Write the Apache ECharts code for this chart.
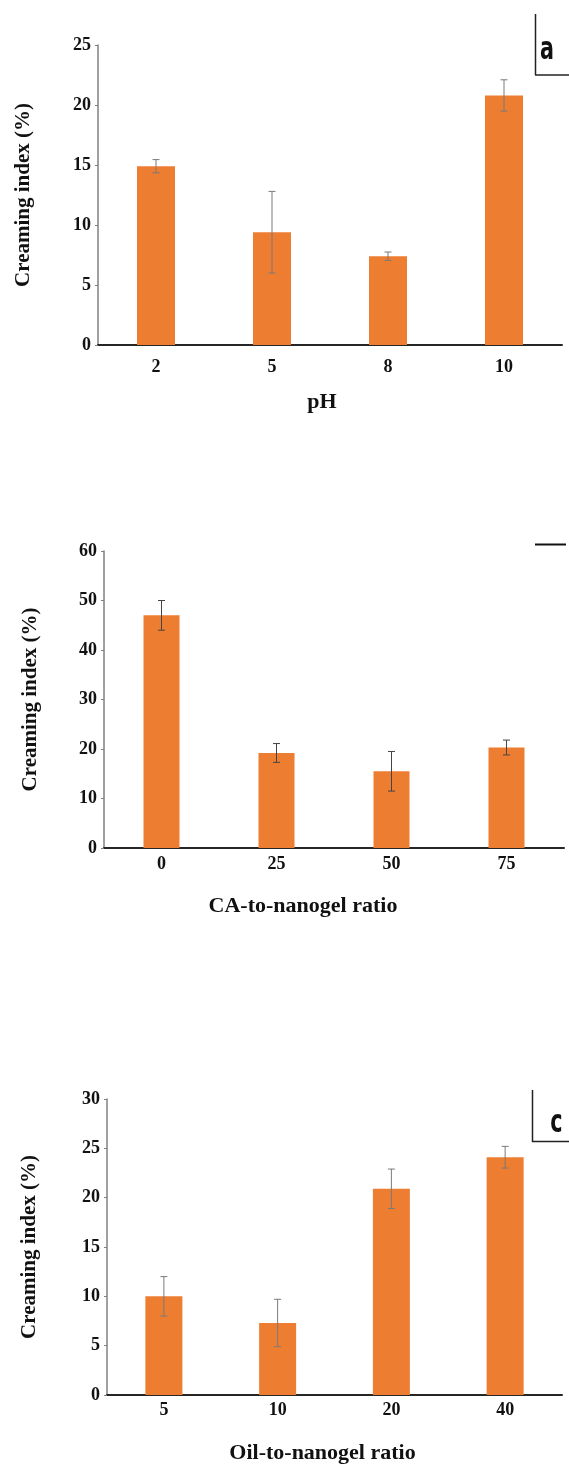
<!DOCTYPE html>
<html>
<head>
<meta charset="utf-8">
<script src="https://cdn.jsdelivr.net/npm/echarts@6/dist/echarts.min.js"></script>
<style>
html,body{margin:0;padding:0;background:#fff;}
#chart{width:569px;height:1465px;}
</style>
</head>
<body>
<div id="chart"></div>
<script>
// ---- data ----
const phCats = ['2', '5', '8', '10'];
const phVals = [14.9, 9.4, 7.4, 20.8];
const phErr  = [0.55, 3.4, 0.35, 1.3];

const caCats = ['0', '25', '50', '75'];
const caVals = [47.0, 19.2, 15.5, 20.3];
const caErr  = [3.0, 1.9, 4.0, 1.5];

const oilCats = ['5', '10', '20', '40'];
const oilVals = [10.0, 7.3, 20.9, 24.1];
const oilErr  = [2.0, 2.4, 2.0, 1.1];

const yTitle = 'Creaming index (%)';
const xTitles = ['pH', 'CA-to-nanogel ratio', 'Oil-to-nanogel ratio'];
const yMax = [25, 60, 30];
const yStep = [5, 10, 5];

// ---- chart ----
const SERIF = '"Liberation Serif", "Times New Roman", serif';
const BAR = '#ED7D31';
const chart = echarts.init(document.getElementById('chart'), null, {renderer: 'canvas'});

const grids = [
  {left: 98, top: 45, width: 464, height: 300},
  {left: 104, top: 551, width: 460, height: 297},
  {left: 107, top: 1099, width: 455, height: 298}
];
const labelMargin = [13, 7, 6];
const xNameGap = [46, 47, 47];
const xNamePad = [[0, 16, 0, 0], [0, 62, 0, 0], [0, 24, 0, 0]];
const yNameGap = [64, 63, 67];
const barW = [38, 36, 37];
const errColor = ['#7a7a7a', '#444444', '#7a7a7a'];

const sets = [
  {cats: phCats, vals: phVals, err: phErr},
  {cats: caCats, vals: caVals, err: caErr},
  {cats: oilCats, vals: oilVals, err: oilErr}
];

const xAxes = [], yAxes = [], series = [];
sets.forEach((s, i) => {
  xAxes.push({
    type: 'category', gridIndex: i, data: s.cats,
    axisLine: {lineStyle: {color: '#262626', width: 2}},
    axisTick: {show: false},
    axisLabel: {color: '#111', fontFamily: SERIF, fontWeight: 'bold', fontSize: 18, margin: labelMargin[i]},
    name: xTitles[i], nameLocation: 'middle', nameGap: xNameGap[i],
    nameTextStyle: {color: '#111', fontFamily: SERIF, fontWeight: 'bold', fontSize: 22, padding: xNamePad[i]}
  });
  yAxes.push({
    type: 'value', gridIndex: i, min: 0, max: yMax[i], interval: yStep[i],
    axisLine: {show: true, lineStyle: {color: '#808080', width: 1.5}},
    axisTick: {show: true, length: 3, lineStyle: {color: '#808080'}},
    splitLine: {show: false},
    axisLabel: {color: '#111', fontFamily: SERIF, fontWeight: 'bold', fontSize: 18, margin: 7},
    name: yTitle, nameLocation: 'middle', nameGap: yNameGap[i], nameRotate: 90,
    nameTextStyle: {color: '#111', fontFamily: SERIF, fontWeight: 'bold', fontSize: 21}
  });
  series.push({
    type: 'bar', xAxisIndex: i, yAxisIndex: i, data: s.vals,
    barWidth: barW[i], itemStyle: {color: BAR}, silent: true
  });
  const col = errColor[i];
  series.push({
    type: 'custom', xAxisIndex: i, yAxisIndex: i, z: 5, silent: true,
    data: s.cats.map((c, k) => [k, s.vals[k], s.err[k]]),
    encode: {x: 0, y: 1},
    renderItem: function (params, api) {
      const x = api.value(0), v = api.value(1), e = api.value(2);
      const t = api.coord([x, v + e]);
      const b = api.coord([x, v - e]);
      const hw = 3.5;
      const st = {stroke: col, lineWidth: 1};
      return {
        type: 'group',
        children: [
          {type: 'line', shape: {x1: t[0], y1: t[1], x2: b[0], y2: b[1]}, style: st},
          {type: 'line', shape: {x1: t[0] - hw, y1: t[1], x2: t[0] + hw, y2: t[1]}, style: st},
          {type: 'line', shape: {x1: b[0] - hw, y1: b[1], x2: b[0] + hw, y2: b[1]}, style: st}
        ]
      };
    }
  });
});

const lineSt = {stroke: '#222', lineWidth: 1.5};
const letterFont = '"Liberation Sans Narrow", "DejaVu Sans Condensed", "Liberation Sans", sans-serif';
chart.setOption({
  animation: false,
  grid: grids,
  xAxis: xAxes,
  yAxis: yAxes,
  series: series,
  graphic: [
    {type: 'line', shape: {x1: 535.5, y1: 14, x2: 535.5, y2: 75}, style: lineSt, silent: true},
    {type: 'line', shape: {x1: 535, y1: 75, x2: 569, y2: 75}, style: lineSt, silent: true},
    {type: 'text', x: 547, y: 51, scaleX: 0.72, style: {text: 'a', font: 'bold 32px ' + letterFont, fill: '#111', textAlign: 'center', textVerticalAlign: 'middle'}},
    {type: 'line', shape: {x1: 535, y1: 544.5, x2: 566, y2: 544.5}, style: {stroke: '#111', lineWidth: 2}, silent: true},
    {type: 'line', shape: {x1: 532.5, y1: 1090, x2: 532.5, y2: 1142}, style: lineSt, silent: true},
    {type: 'line', shape: {x1: 532, y1: 1141.5, x2: 569, y2: 1141.5}, style: lineSt, silent: true},
    {type: 'text', x: 556.5, y: 1124, scaleX: 0.72, style: {text: 'c', font: 'bold 32px ' + letterFont, fill: '#111', textAlign: 'center', textVerticalAlign: 'middle'}}
  ]
});
</script>
</body>
</html>
